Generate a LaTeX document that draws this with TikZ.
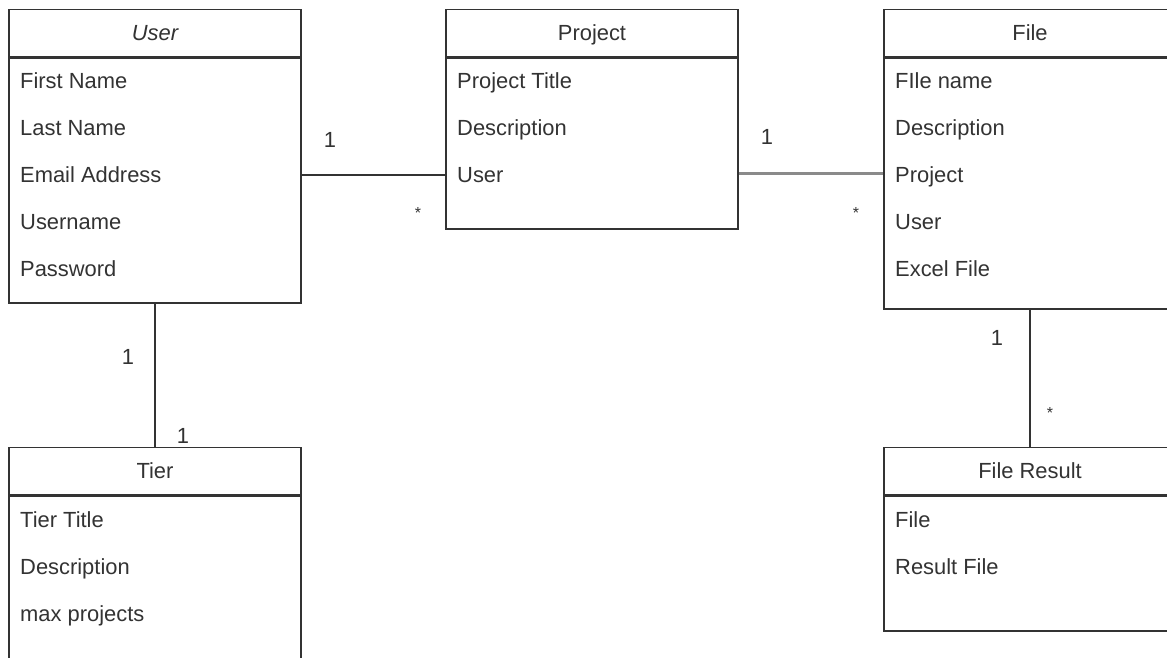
\documentclass[tikz,border=0pt]{standalone}
\usepackage{fontspec}
\setmainfont{Liberation Sans}
\usepackage{xcolor}
\usepackage{tikz}
\usetikzlibrary{positioning}

\definecolor{umlline}{HTML}{333333}
\definecolor{umltext}{HTML}{333333}
\definecolor{linkgray}{HTML}{8A8A8A}

\tikzset{
  classhead/.style={draw=umlline,line width=1.8pt,minimum width=292pt,minimum height=47pt,
                    inner sep=0pt,text=umltext,text height=15.7pt,text depth=0pt,
                    font=\fontsize{21.9}{26}\selectfont},
  classbody/.style={draw=umlline,line width=1.8pt,minimum width=292pt,inner sep=0pt,anchor=north},
  attr/.style={anchor=west,inner sep=0pt,text=umltext,text height=15.7pt,text depth=0pt,
               font=\fontsize{21.9}{26}\selectfont},
  mult/.style={inner sep=0pt,text=umltext,text height=15.7pt,text depth=0pt,
               font=\fontsize{21.9}{26}\selectfont},
  star/.style={inner sep=0pt,text=umltext,font=\fontsize{16}{18}\selectfont},
  assoc/.style={draw=umlline,line width=1.8pt},
}

\begin{document}
\begin{tikzpicture}[x=1pt,y=-1pt]
                    \clip (0,0) rectangle (1167,658);
                    \fill[white] (0,0) rectangle (1167,658);

                    % classes
                    \node[classhead] (user) at (155,33) {\itshape User};
                    \node[classbody,minimum height=245pt] (userbody) at (user.south) {};
                    \node[classhead] (proj) at (592,33) {Project};
                    \node[classbody,minimum height=171pt] (projbody) at (proj.south) {};
                    \node[classhead] (file) at (1030,33) {File};
                    \node[classbody,minimum height=251pt] (filebody) at (file.south) {};
                    \node[classhead] (tier) at (155,471) {Tier};
                    \node[classbody,minimum height=245pt] (tierbody) at (tier.south) {};
                    \node[classhead] (result) at (1030,471) {File Result};
                    \node[classbody,minimum height=135pt] (resultbody) at (result.south) {};

                    % attributes
                    \node[attr] (ufirst) at (20,81) {First Name};
                    \node[attr] (ulast) at (20,128) {Last Name};
                    \node[attr] (uemail) at (20,175) {Email Address};
                    \node[attr] (uname) at (20,222) {Username};
                    \node[attr] (upass) at (20,269) {Password};

                    \node[attr] (ptitle) at (457,81) {Project Title};
                    \node[attr] (pdesc) at (457,128) {Description};
                    \node[attr] (puser) at (457,175) {User};

                    \node[attr] (fname) at (895,81) {FIle name};
                    \node[attr] (fdesc) at (895,128) {Description};
                    \node[attr] (fproj) at (895,175) {Project};
                    \node[attr] (fuser) at (895,222) {User};
                    \node[attr] (fexcel) at (895,269) {Excel File};

                    \node[attr] (ttitle) at (20,520) {Tier Title};
                    \node[attr] (tdesc) at (20,567) {Description};
                    \node[attr] (tmax) at (20,614) {max projects};

                    \node[attr] (rfile) at (895,520) {File};
                    \node[attr] (rres) at (895,567) {Result File};

                    % associations
                    \draw[assoc] (userbody.east |- uemail) -- (projbody.west |- puser)
                        node[mult,pos=0,xshift=28pt,yshift=35pt] (m1) {1}
                        node[star,pos=1,xshift=-27pt,yshift=-38pt] (m2) {*};
                    \draw[draw=linkgray,line width=3pt] (projbody.east |- 0,173) -- (filebody.west |- 0,173)
                        node[mult,pos=0,xshift=28pt,yshift=36pt] (m3) {1}
                        node[star,pos=1,xshift=-27pt,yshift=-40pt] (m4) {*};
                    \draw[assoc] (userbody.south) -- (tier.north)
                        node[mult,pos=0,xshift=-27pt,yshift=-52pt] (m5) {1}
                        node[mult,pos=1,xshift=28pt,yshift=11pt] (m6) {1};
                    \draw[assoc] (filebody.south) -- (result.north)
                        node[mult,pos=0,xshift=-33pt,yshift=-27pt] (m7) {1}
                        node[star,pos=1,xshift=20pt,yshift=34pt] (m8) {*};
                    \end{tikzpicture}
\end{document}
